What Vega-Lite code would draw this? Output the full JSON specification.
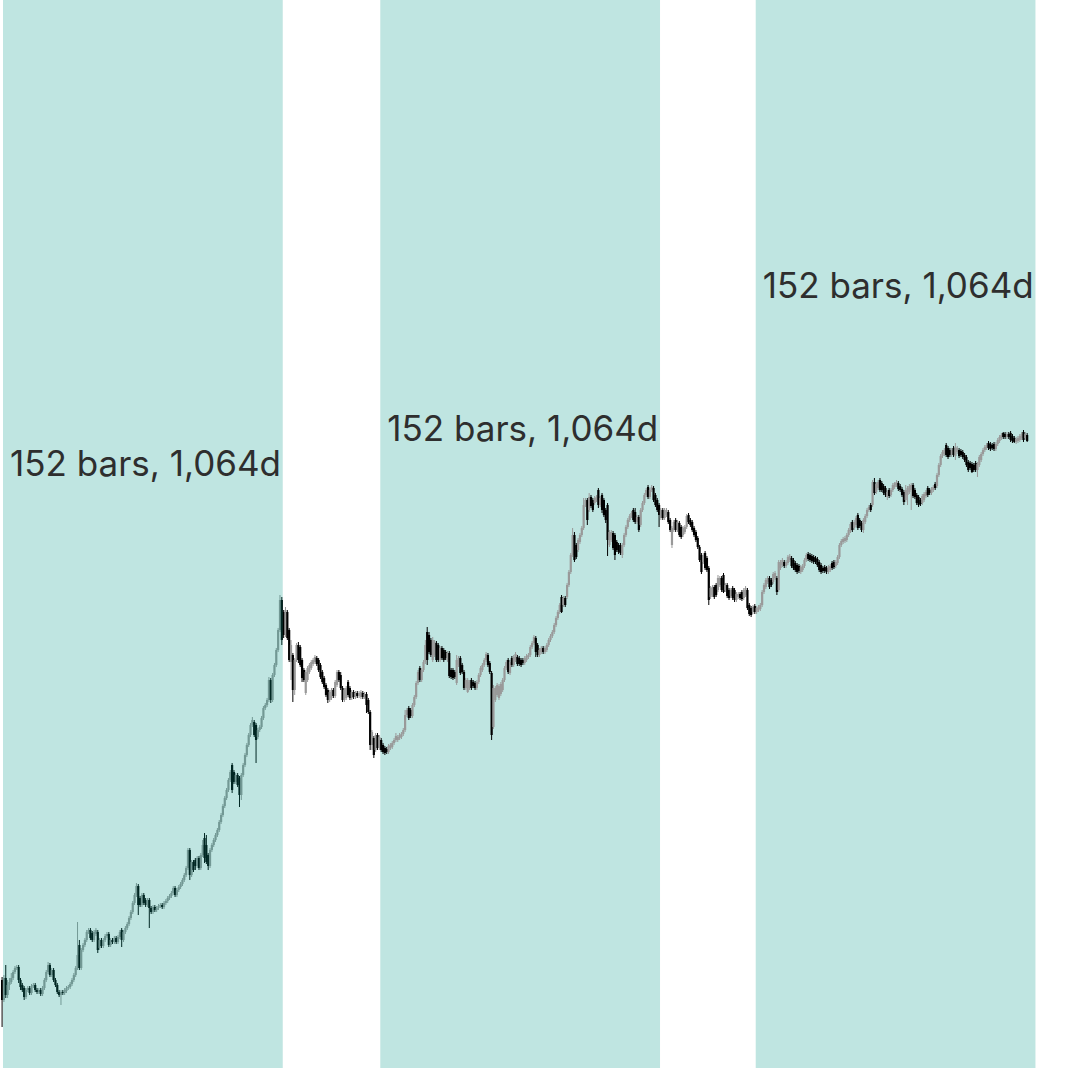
{
  "$schema": "https://vega.github.io/schema/vega-lite/v6.json",
  "width": 1068,
  "height": 1068,
  "autosize": {"type": "fit", "contains": "padding"},
  "padding": 0,
  "background": "white",
  "config": {"view": {"stroke": null}},
  "datasets": {
    "spans": [
      {"n": 1, "s": 0.5, "e": 152.5},
      {"n": 2, "s": 205.5, "e": 357.5},
      {"n": 3, "s": 409.5, "e": 561.5}
    ],
    "labels": [
      {"s": 0.5, "p": 592, "t": "152 bars, 1,064d"},
      {"s": 205.5, "p": 627, "t": "152 bars, 1,064d"},
      {"s": 409.5, "p": 770, "t": "152 bars, 1,064d"}
    ],
    "candles": [
      {"i":0,"o":88,"h":91,"l":41,"c":68},{"i":1,"o":68,"h":93,"l":66,"c":90},{"i":2,"o":90,"h":103,"l":70,"c":73},{"i":3,"o":73,"h":88,"l":70,"c":83},{"i":4,"o":83,"h":90,"l":78,"c":86},
      {"i":5,"o":86,"h":95,"l":84,"c":90},{"i":6,"o":90,"h":98,"l":88,"c":96},{"i":7,"o":96,"h":102,"l":94,"c":100},{"i":8,"o":100,"h":103,"l":98,"c":101},{"i":9,"o":101,"h":103,"l":85,"c":88},
      {"i":10,"o":88,"h":90,"l":78,"c":81},{"i":11,"o":83,"h":85,"l":76,"c":78},{"i":12,"o":80,"h":82,"l":68,"c":71},{"i":13,"o":71,"h":80,"l":69,"c":78},{"i":14,"o":78,"h":82,"l":76,"c":80},
      {"i":15,"o":80,"h":82,"l":73,"c":75},{"i":16,"o":75,"h":84,"l":73,"c":82},{"i":17,"o":82,"h":85,"l":80,"c":83},{"i":18,"o":83,"h":85,"l":76,"c":78},{"i":19,"o":78,"h":80,"l":74,"c":76},
      {"i":20,"o":76,"h":80,"l":74,"c":78},{"i":21,"o":78,"h":80,"l":72,"c":74},{"i":22,"o":74,"h":82,"l":72,"c":80},{"i":23,"o":80,"h":90,"l":78,"c":88},{"i":24,"o":88,"h":98,"l":86,"c":96},
      {"i":25,"o":96,"h":106,"l":94,"c":103},{"i":26,"o":103,"h":105,"l":91,"c":93},{"i":27,"o":93,"h":100,"l":91,"c":98},{"i":28,"o":98,"h":100,"l":86,"c":88},{"i":29,"o":88,"h":90,"l":81,"c":83},
      {"i":30,"o":83,"h":85,"l":74,"c":76},{"i":31,"o":76,"h":78,"l":71,"c":73},{"i":32,"o":73,"h":78,"l":63,"c":76},{"i":33,"o":76,"h":78,"l":73,"c":75},{"i":34,"o":75,"h":80,"l":73,"c":78},
      {"i":35,"o":77,"h":82,"l":75,"c":80},{"i":36,"o":80,"h":83,"l":78,"c":81},{"i":37,"o":81,"h":86,"l":79,"c":84},{"i":38,"o":84,"h":90,"l":82,"c":88},{"i":39,"o":88,"h":95,"l":86,"c":93},
      {"i":40,"o":93,"h":102,"l":91,"c":100},{"i":41,"o":100,"h":146,"l":98,"c":113},{"i":42,"o":123,"h":128,"l":98,"c":100},{"i":43,"o":100,"h":120,"l":98,"c":118},{"i":44,"o":118,"h":125,"l":116,"c":123},
      {"i":45,"o":123,"h":130,"l":121,"c":128},{"i":46,"o":128,"h":138,"l":126,"c":136},{"i":47,"o":136,"h":140,"l":134,"c":138},{"i":48,"o":138,"h":140,"l":128,"c":130},{"i":49,"o":135,"h":137,"l":126,"c":128},
      {"i":50,"o":128,"h":138,"l":126,"c":136},{"i":51,"o":134,"h":140,"l":132,"c":138},{"i":52,"o":136,"h":138,"l":115,"c":118},{"i":53,"o":120,"h":130,"l":118,"c":128},{"i":54,"o":128,"h":130,"l":120,"c":122},
      {"i":55,"o":122,"h":130,"l":120,"c":128},{"i":56,"o":128,"h":134,"l":126,"c":132},{"i":57,"o":132,"h":136,"l":130,"c":134},{"i":58,"o":134,"h":136,"l":121,"c":123},{"i":59,"o":123,"h":130,"l":121,"c":128},
      {"i":60,"o":128,"h":130,"l":124,"c":126},{"i":61,"o":126,"h":132,"l":124,"c":130},{"i":62,"o":130,"h":132,"l":124,"c":126},{"i":63,"o":126,"h":133,"l":124,"c":131},{"i":64,"o":131,"h":138,"l":129,"c":136},
      {"i":65,"o":138,"h":140,"l":121,"c":128},{"i":66,"o":128,"h":138,"l":126,"c":136},{"i":67,"o":136,"h":142,"l":134,"c":140},{"i":68,"o":140,"h":146,"l":138,"c":144},{"i":69,"o":144,"h":152,"l":142,"c":150},
      {"i":70,"o":150,"h":158,"l":148,"c":156},{"i":71,"o":156,"h":167,"l":154,"c":165},{"i":72,"o":165,"h":175,"l":163,"c":173},{"i":73,"o":173,"h":185,"l":171,"c":182},{"i":74,"o":182,"h":184,"l":153,"c":163},
      {"i":75,"o":170,"h":172,"l":161,"c":163},{"i":76,"o":163,"h":175,"l":161,"c":173},{"i":77,"o":173,"h":175,"l":163,"c":165},{"i":78,"o":168,"h":170,"l":161,"c":163},{"i":79,"o":163,"h":170,"l":161,"c":168},
      {"i":80,"o":168,"h":170,"l":140,"c":160},{"i":81,"o":160,"h":162,"l":154,"c":156},{"i":82,"o":156,"h":163,"l":154,"c":161},{"i":83,"o":161,"h":163,"l":156,"c":158},{"i":84,"o":158,"h":162,"l":156,"c":160},
      {"i":85,"o":160,"h":164,"l":158,"c":162},{"i":86,"o":162,"h":165,"l":160,"c":163},{"i":87,"o":163,"h":165,"l":159,"c":161},{"i":88,"o":161,"h":167,"l":159,"c":165},{"i":89,"o":165,"h":169,"l":163,"c":167},
      {"i":90,"o":167,"h":172,"l":165,"c":170},{"i":91,"o":170,"h":174,"l":168,"c":172},{"i":92,"o":172,"h":177,"l":170,"c":175},{"i":93,"o":175,"h":182,"l":173,"c":180},{"i":94,"o":180,"h":182,"l":171,"c":173},
      {"i":95,"o":173,"h":180,"l":171,"c":178},{"i":96,"o":178,"h":183,"l":176,"c":181},{"i":97,"o":181,"h":186,"l":179,"c":184},{"i":98,"o":184,"h":190,"l":182,"c":188},{"i":99,"o":188,"h":195,"l":186,"c":193},
      {"i":100,"o":193,"h":202,"l":191,"c":200},{"i":101,"o":200,"h":220,"l":198,"c":218},{"i":102,"o":218,"h":220,"l":188,"c":193},{"i":103,"o":193,"h":208,"l":191,"c":206},{"i":104,"o":206,"h":208,"l":196,"c":198},
      {"i":105,"o":208,"h":210,"l":198,"c":202},{"i":106,"o":202,"h":212,"l":200,"c":210},{"i":107,"o":210,"h":212,"l":198,"c":200},{"i":108,"o":200,"h":215,"l":198,"c":213},{"i":109,"o":213,"h":228,"l":211,"c":223},
      {"i":110,"o":230,"h":235,"l":205,"c":210},{"i":111,"o":223,"h":233,"l":204,"c":206},{"i":112,"o":213,"h":215,"l":198,"c":202},{"i":113,"o":202,"h":220,"l":200,"c":218},{"i":114,"o":218,"h":225,"l":216,"c":223},
      {"i":115,"o":223,"h":230,"l":221,"c":228},{"i":116,"o":228,"h":235,"l":226,"c":233},{"i":117,"o":233,"h":240,"l":231,"c":238},{"i":118,"o":238,"h":248,"l":236,"c":246},{"i":119,"o":246,"h":255,"l":244,"c":253},
      {"i":120,"o":253,"h":264,"l":251,"c":262},{"i":121,"o":262,"h":272,"l":260,"c":270},{"i":122,"o":270,"h":280,"l":268,"c":278},{"i":123,"o":278,"h":290,"l":276,"c":288},{"i":124,"o":288,"h":298,"l":286,"c":296},
      {"i":125,"o":303,"h":305,"l":275,"c":278},{"i":126,"o":296,"h":298,"l":284,"c":286},{"i":127,"o":286,"h":295,"l":284,"c":293},{"i":128,"o":293,"h":295,"l":281,"c":283},{"i":129,"o":290,"h":292,"l":261,"c":273},
      {"i":130,"o":273,"h":295,"l":268,"c":293},{"i":131,"o":293,"h":305,"l":291,"c":303},{"i":132,"o":303,"h":315,"l":301,"c":313},{"i":133,"o":313,"h":325,"l":311,"c":323},{"i":134,"o":323,"h":335,"l":321,"c":333},
      {"i":135,"o":333,"h":345,"l":331,"c":343},{"i":136,"o":343,"h":351,"l":341,"c":348},{"i":137,"o":346,"h":348,"l":331,"c":333},{"i":138,"o":343,"h":345,"l":305,"c":328},{"i":139,"o":331,"h":340,"l":329,"c":338},
      {"i":140,"o":338,"h":343,"l":336,"c":341},{"i":141,"o":341,"h":352,"l":339,"c":350},{"i":142,"o":350,"h":362,"l":348,"c":360},{"i":143,"o":360,"h":365,"l":358,"c":363},{"i":144,"o":363,"h":370,"l":361,"c":368},
      {"i":145,"o":368,"h":391,"l":366,"c":388},{"i":146,"o":388,"h":390,"l":365,"c":368},{"i":147,"o":368,"h":395,"l":366,"c":393},{"i":148,"o":393,"h":405,"l":391,"c":403},{"i":149,"o":403,"h":420,"l":401,"c":418},
      {"i":150,"o":418,"h":440,"l":416,"c":438},{"i":151,"o":438,"h":473,"l":436,"c":468},{"i":152,"o":468,"h":471,"l":423,"c":428},{"i":153,"o":456,"h":458,"l":430,"c":433},{"i":154,"o":433,"h":461,"l":431,"c":458},
      {"i":155,"o":456,"h":458,"l":428,"c":430},{"i":156,"o":438,"h":440,"l":406,"c":408},{"i":157,"o":406,"h":428,"l":388,"c":423},{"i":158,"o":413,"h":415,"l":366,"c":378},{"i":159,"o":378,"h":410,"l":373,"c":408},
      {"i":160,"o":408,"h":425,"l":406,"c":423},{"i":161,"o":423,"h":426,"l":405,"c":408},{"i":162,"o":421,"h":423,"l":401,"c":403},{"i":163,"o":408,"h":410,"l":386,"c":390},{"i":164,"o":398,"h":400,"l":386,"c":388},
      {"i":165,"o":375,"h":398,"l":373,"c":396},{"i":166,"o":388,"h":402,"l":386,"c":400},{"i":167,"o":396,"h":405,"l":394,"c":403},{"i":168,"o":400,"h":408,"l":398,"c":406},{"i":169,"o":404,"h":410,"l":402,"c":408},
      {"i":170,"o":406,"h":413,"l":404,"c":411},{"i":171,"o":410,"h":412,"l":402,"c":404},{"i":172,"o":408,"h":410,"l":396,"c":398},{"i":173,"o":403,"h":405,"l":389,"c":391},{"i":174,"o":396,"h":398,"l":384,"c":386},
      {"i":175,"o":390,"h":392,"l":379,"c":381},{"i":176,"o":383,"h":385,"l":371,"c":373},{"i":177,"o":378,"h":380,"l":365,"c":368},{"i":178,"o":368,"h":378,"l":366,"c":376},{"i":179,"o":370,"h":380,"l":368,"c":378},
      {"i":180,"o":378,"h":380,"l":370,"c":372},{"i":181,"o":372,"h":388,"l":370,"c":386},{"i":182,"o":383,"h":398,"l":381,"c":396},{"i":183,"o":396,"h":398,"l":386,"c":388},{"i":184,"o":393,"h":396,"l":378,"c":380},
      {"i":185,"o":380,"h":382,"l":366,"c":368},{"i":186,"o":368,"h":380,"l":366,"c":378},{"i":187,"o":370,"h":382,"l":368,"c":380},{"i":188,"o":386,"h":388,"l":371,"c":373},{"i":189,"o":380,"h":382,"l":368,"c":370},
      {"i":190,"o":370,"h":378,"l":368,"c":376},{"i":191,"o":376,"h":378,"l":369,"c":371},{"i":192,"o":371,"h":377,"l":369,"c":375},{"i":193,"o":375,"h":377,"l":370,"c":372},{"i":194,"o":372,"h":377,"l":370,"c":375},
      {"i":195,"o":371,"h":378,"l":369,"c":376},{"i":196,"o":375,"h":377,"l":369,"c":371},{"i":197,"o":371,"h":376,"l":369,"c":374},{"i":198,"o":374,"h":376,"l":355,"c":363},{"i":199,"o":368,"h":370,"l":354,"c":356},
      {"i":200,"o":356,"h":358,"l":318,"c":323},{"i":201,"o":323,"h":338,"l":318,"c":336},{"i":202,"o":330,"h":332,"l":310,"c":313},{"i":203,"o":318,"h":335,"l":316,"c":333},{"i":204,"o":333,"h":335,"l":318,"c":320},
      {"i":205,"o":320,"h":333,"l":318,"c":331},{"i":206,"o":328,"h":330,"l":316,"c":318},{"i":207,"o":323,"h":325,"l":314,"c":316},{"i":208,"o":320,"h":322,"l":313,"c":315},{"i":209,"o":319,"h":321,"l":314,"c":316},
      {"i":210,"o":316,"h":324,"l":314,"c":322},{"i":211,"o":320,"h":325,"l":318,"c":323},{"i":212,"o":321,"h":327,"l":319,"c":325},{"i":213,"o":325,"h":330,"l":323,"c":328},{"i":214,"o":328,"h":335,"l":326,"c":332},
      {"i":215,"o":328,"h":333,"l":326,"c":331},{"i":216,"o":330,"h":335,"l":328,"c":333},{"i":217,"o":331,"h":336,"l":329,"c":334},{"i":218,"o":334,"h":340,"l":332,"c":338},{"i":219,"o":338,"h":358,"l":336,"c":353},
      {"i":220,"o":353,"h":360,"l":351,"c":358},{"i":221,"o":360,"h":362,"l":348,"c":350},{"i":222,"o":358,"h":360,"l":350,"c":352},{"i":223,"o":352,"h":365,"l":350,"c":363},{"i":224,"o":363,"h":373,"l":361,"c":371},
      {"i":225,"o":371,"h":387,"l":369,"c":385},{"i":226,"o":385,"h":398,"l":383,"c":396},{"i":227,"o":400,"h":402,"l":386,"c":388},{"i":228,"o":388,"h":400,"l":386,"c":398},{"i":229,"o":398,"h":408,"l":396,"c":406},
      {"i":230,"o":406,"h":428,"l":404,"c":423},{"i":231,"o":436,"h":441,"l":403,"c":408},{"i":232,"o":433,"h":436,"l":414,"c":416},{"i":233,"o":428,"h":430,"l":411,"c":413},{"i":234,"o":408,"h":431,"l":406,"c":428},
      {"i":235,"o":413,"h":428,"l":411,"c":426},{"i":236,"o":425,"h":427,"l":406,"c":408},{"i":237,"o":423,"h":425,"l":406,"c":408},{"i":238,"o":408,"h":422,"l":406,"c":420},{"i":239,"o":420,"h":422,"l":408,"c":410},
      {"i":240,"o":418,"h":420,"l":406,"c":408},{"i":241,"o":416,"h":418,"l":408,"c":410},{"i":242,"o":408,"h":417,"l":406,"c":415},{"i":243,"o":415,"h":417,"l":390,"c":392},{"i":244,"o":398,"h":400,"l":389,"c":391},
      {"i":245,"o":398,"h":400,"l":388,"c":390},{"i":246,"o":396,"h":398,"l":389,"c":391},{"i":247,"o":385,"h":413,"l":383,"c":408},{"i":248,"o":403,"h":412,"l":401,"c":410},{"i":249,"o":410,"h":412,"l":393,"c":395},
      {"i":250,"o":403,"h":405,"l":394,"c":396},{"i":251,"o":396,"h":398,"l":378,"c":380},{"i":252,"o":380,"h":390,"l":378,"c":388},{"i":253,"o":376,"h":390,"l":375,"c":388},{"i":254,"o":380,"h":388,"l":378,"c":386},
      {"i":255,"o":388,"h":390,"l":378,"c":380},{"i":256,"o":386,"h":388,"l":380,"c":382},{"i":257,"o":385,"h":387,"l":378,"c":380},{"i":258,"o":380,"h":388,"l":378,"c":386},{"i":259,"o":386,"h":395,"l":384,"c":393},
      {"i":260,"o":393,"h":402,"l":391,"c":400},{"i":261,"o":398,"h":405,"l":396,"c":403},{"i":262,"o":403,"h":410,"l":401,"c":408},{"i":263,"o":408,"h":416,"l":406,"c":414},{"i":264,"o":413,"h":415,"l":401,"c":403},
      {"i":265,"o":405,"h":407,"l":394,"c":396},{"i":266,"o":395,"h":397,"l":328,"c":333},{"i":267,"o":341,"h":383,"l":339,"c":380},{"i":268,"o":368,"h":382,"l":366,"c":380},{"i":269,"o":373,"h":385,"l":371,"c":383},
      {"i":270,"o":370,"h":384,"l":368,"c":382},{"i":271,"o":374,"h":386,"l":372,"c":384},{"i":272,"o":378,"h":390,"l":376,"c":388},{"i":273,"o":388,"h":402,"l":386,"c":400},{"i":274,"o":400,"h":408,"l":398,"c":406},
      {"i":275,"o":408,"h":410,"l":394,"c":396},{"i":276,"o":395,"h":408,"l":393,"c":406},{"i":277,"o":410,"h":412,"l":401,"c":403},{"i":278,"o":403,"h":413,"l":401,"c":411},{"i":279,"o":408,"h":416,"l":406,"c":414},
      {"i":280,"o":411,"h":413,"l":402,"c":404},{"i":281,"o":410,"h":412,"l":402,"c":404},{"i":282,"o":408,"h":410,"l":401,"c":403},{"i":283,"o":408,"h":410,"l":403,"c":405},{"i":284,"o":405,"h":412,"l":403,"c":410},
      {"i":285,"o":408,"h":414,"l":406,"c":412},{"i":286,"o":411,"h":415,"l":409,"c":413},{"i":287,"o":413,"h":423,"l":411,"c":421},{"i":288,"o":421,"h":427,"l":419,"c":425},{"i":289,"o":425,"h":433,"l":423,"c":431},
      {"i":290,"o":430,"h":432,"l":411,"c":416},{"i":291,"o":423,"h":425,"l":411,"c":413},{"i":292,"o":413,"h":420,"l":411,"c":418},{"i":293,"o":416,"h":422,"l":414,"c":420},{"i":294,"o":420,"h":422,"l":414,"c":416},
      {"i":295,"o":416,"h":422,"l":414,"c":420},{"i":296,"o":418,"h":425,"l":416,"c":423},{"i":297,"o":423,"h":430,"l":421,"c":428},{"i":298,"o":428,"h":434,"l":426,"c":432},{"i":299,"o":432,"h":438,"l":430,"c":436},
      {"i":300,"o":436,"h":445,"l":434,"c":443},{"i":301,"o":443,"h":452,"l":441,"c":450},{"i":302,"o":450,"h":458,"l":448,"c":456},{"i":303,"o":456,"h":465,"l":454,"c":463},{"i":304,"o":471,"h":473,"l":455,"c":456},
      {"i":305,"o":463,"h":472,"l":461,"c":470},{"i":306,"o":470,"h":472,"l":461,"c":463},{"i":307,"o":471,"h":485,"l":469,"c":483},{"i":308,"o":483,"h":498,"l":481,"c":496},{"i":309,"o":496,"h":515,"l":494,"c":513},
      {"i":310,"o":513,"h":540,"l":511,"c":533},{"i":311,"o":533,"h":536,"l":506,"c":508},{"i":312,"o":523,"h":525,"l":509,"c":511},{"i":313,"o":518,"h":530,"l":516,"c":528},{"i":314,"o":526,"h":535,"l":524,"c":533},
      {"i":315,"o":533,"h":542,"l":531,"c":540},{"i":316,"o":540,"h":570,"l":538,"c":563},{"i":317,"o":563,"h":570,"l":561,"c":568},{"i":318,"o":568,"h":570,"l":543,"c":548},{"i":319,"o":558,"h":575,"l":556,"c":571},
      {"i":320,"o":571,"h":573,"l":560,"c":562},{"i":321,"o":568,"h":570,"l":556,"c":558},{"i":322,"o":565,"h":572,"l":563,"c":570},{"i":323,"o":568,"h":573,"l":566,"c":571},{"i":324,"o":578,"h":580,"l":560,"c":563},
      {"i":325,"o":563,"h":572,"l":561,"c":570},{"i":326,"o":573,"h":575,"l":555,"c":558},{"i":327,"o":568,"h":570,"l":551,"c":553},{"i":328,"o":558,"h":560,"l":545,"c":548},{"i":329,"o":563,"h":565,"l":512,"c":528},
      {"i":330,"o":523,"h":538,"l":521,"c":536},{"i":331,"o":528,"h":538,"l":526,"c":536},{"i":332,"o":535,"h":537,"l":518,"c":520},{"i":333,"o":533,"h":535,"l":508,"c":513},{"i":334,"o":526,"h":528,"l":516,"c":518},
      {"i":335,"o":523,"h":525,"l":514,"c":516},{"i":336,"o":523,"h":525,"l":513,"c":515},{"i":337,"o":513,"h":525,"l":510,"c":523},{"i":338,"o":523,"h":535,"l":521,"c":533},{"i":339,"o":533,"h":543,"l":531,"c":541},
      {"i":340,"o":541,"h":550,"l":539,"c":548},{"i":341,"o":548,"h":554,"l":546,"c":552},{"i":342,"o":552,"h":557,"l":550,"c":555},{"i":343,"o":558,"h":560,"l":546,"c":548},{"i":344,"o":556,"h":560,"l":544,"c":546},
      {"i":345,"o":546,"h":553,"l":544,"c":551},{"i":346,"o":551,"h":553,"l":536,"c":538},{"i":347,"o":543,"h":560,"l":541,"c":558},{"i":348,"o":558,"h":567,"l":556,"c":565},{"i":349,"o":565,"h":575,"l":563,"c":573},
      {"i":350,"o":573,"h":580,"l":571,"c":578},{"i":351,"o":581,"h":583,"l":569,"c":571},{"i":352,"o":571,"h":580,"l":569,"c":578},{"i":353,"o":578,"h":583,"l":576,"c":581},{"i":354,"o":580,"h":582,"l":566,"c":568},
      {"i":355,"o":573,"h":575,"l":561,"c":563},{"i":356,"o":568,"h":570,"l":556,"c":558},{"i":357,"o":563,"h":565,"l":541,"c":553},{"i":358,"o":550,"h":560,"l":548,"c":558},{"i":359,"o":558,"h":560,"l":548,"c":550},
      {"i":360,"o":550,"h":560,"l":548,"c":558},{"i":361,"o":553,"h":560,"l":551,"c":558},{"i":362,"o":556,"h":558,"l":544,"c":546},{"i":363,"o":548,"h":550,"l":536,"c":538},{"i":364,"o":523,"h":542,"l":520,"c":540},
      {"i":365,"o":538,"h":548,"l":536,"c":546},{"i":366,"o":548,"h":550,"l":536,"c":538},{"i":367,"o":538,"h":548,"l":536,"c":546},{"i":368,"o":545,"h":547,"l":531,"c":533},{"i":369,"o":541,"h":543,"l":529,"c":531},
      {"i":370,"o":533,"h":542,"l":531,"c":540},{"i":371,"o":536,"h":543,"l":534,"c":541},{"i":372,"o":541,"h":554,"l":539,"c":552},{"i":373,"o":553,"h":555,"l":544,"c":546},{"i":374,"o":548,"h":550,"l":541,"c":543},
      {"i":375,"o":546,"h":548,"l":536,"c":538},{"i":376,"o":540,"h":542,"l":531,"c":533},{"i":377,"o":536,"h":538,"l":526,"c":528},{"i":378,"o":530,"h":532,"l":519,"c":521},{"i":379,"o":521,"h":523,"l":506,"c":508},
      {"i":380,"o":513,"h":515,"l":494,"c":496},{"i":381,"o":506,"h":515,"l":504,"c":513},{"i":382,"o":515,"h":517,"l":498,"c":500},{"i":383,"o":510,"h":512,"l":496,"c":498},{"i":384,"o":500,"h":502,"l":463,"c":468},
      {"i":385,"o":471,"h":482,"l":469,"c":480},{"i":386,"o":473,"h":483,"l":471,"c":481},{"i":387,"o":481,"h":483,"l":469,"c":471},{"i":388,"o":483,"h":485,"l":471,"c":473},{"i":389,"o":478,"h":493,"l":476,"c":490},
      {"i":390,"o":483,"h":492,"l":481,"c":490},{"i":391,"o":490,"h":492,"l":476,"c":478},{"i":392,"o":493,"h":495,"l":475,"c":476},{"i":393,"o":478,"h":485,"l":476,"c":483},{"i":394,"o":483,"h":485,"l":470,"c":472},
      {"i":395,"o":478,"h":480,"l":468,"c":470},{"i":396,"o":472,"h":480,"l":470,"c":478},{"i":397,"o":480,"h":482,"l":468,"c":470},{"i":398,"o":478,"h":480,"l":466,"c":468},{"i":399,"o":468,"h":476,"l":466,"c":474},
      {"i":400,"o":471,"h":476,"l":469,"c":474},{"i":401,"o":474,"h":476,"l":468,"c":470},{"i":402,"o":476,"h":478,"l":467,"c":469},{"i":403,"o":470,"h":480,"l":468,"c":478},{"i":404,"o":473,"h":482,"l":471,"c":480},
      {"i":405,"o":478,"h":480,"l":458,"c":460},{"i":406,"o":463,"h":465,"l":452,"c":454},{"i":407,"o":460,"h":462,"l":451,"c":453},{"i":408,"o":456,"h":463,"l":454,"c":461},{"i":409,"o":462,"h":464,"l":454,"c":456},
      {"i":410,"o":456,"h":462,"l":454,"c":460},{"i":411,"o":458,"h":463,"l":456,"c":461},{"i":412,"o":459,"h":465,"l":457,"c":463},{"i":413,"o":463,"h":478,"l":461,"c":476},{"i":414,"o":476,"h":485,"l":474,"c":483},
      {"i":415,"o":481,"h":490,"l":479,"c":488},{"i":416,"o":486,"h":492,"l":484,"c":490},{"i":417,"o":490,"h":492,"l":479,"c":481},{"i":418,"o":488,"h":490,"l":481,"c":483},{"i":419,"o":486,"h":496,"l":484,"c":494},
      {"i":420,"o":490,"h":497,"l":488,"c":495},{"i":421,"o":490,"h":492,"l":473,"c":476},{"i":422,"o":478,"h":508,"l":476,"c":506},{"i":423,"o":500,"h":508,"l":498,"c":506},{"i":424,"o":503,"h":510,"l":501,"c":508},
      {"i":425,"o":506,"h":508,"l":500,"c":502},{"i":426,"o":502,"h":508,"l":500,"c":506},{"i":427,"o":505,"h":513,"l":503,"c":511},{"i":428,"o":508,"h":514,"l":506,"c":512},{"i":429,"o":510,"h":512,"l":500,"c":502},
      {"i":430,"o":508,"h":510,"l":498,"c":500},{"i":431,"o":505,"h":507,"l":496,"c":498},{"i":432,"o":503,"h":505,"l":494,"c":496},{"i":433,"o":502,"h":504,"l":495,"c":497},{"i":434,"o":496,"h":503,"l":494,"c":501},
      {"i":435,"o":498,"h":504,"l":496,"c":502},{"i":436,"o":502,"h":510,"l":500,"c":508},{"i":437,"o":508,"h":515,"l":506,"c":513},{"i":438,"o":514,"h":516,"l":507,"c":509},{"i":439,"o":513,"h":515,"l":506,"c":508},
      {"i":440,"o":512,"h":514,"l":505,"c":507},{"i":441,"o":511,"h":513,"l":504,"c":506},{"i":442,"o":510,"h":512,"l":504,"c":506},{"i":443,"o":509,"h":511,"l":501,"c":503},{"i":444,"o":506,"h":508,"l":496,"c":498},
      {"i":445,"o":503,"h":505,"l":494,"c":496},{"i":446,"o":500,"h":502,"l":495,"c":497},{"i":447,"o":501,"h":503,"l":495,"c":497},{"i":448,"o":500,"h":502,"l":494,"c":496},{"i":449,"o":496,"h":503,"l":494,"c":501},
      {"i":450,"o":498,"h":504,"l":496,"c":502},{"i":451,"o":505,"h":507,"l":498,"c":500},{"i":452,"o":506,"h":508,"l":499,"c":501},{"i":453,"o":502,"h":508,"l":500,"c":506},{"i":454,"o":505,"h":513,"l":503,"c":511},
      {"i":455,"o":511,"h":525,"l":509,"c":523},{"i":456,"o":523,"h":529,"l":521,"c":527},{"i":457,"o":526,"h":531,"l":524,"c":529},{"i":458,"o":527,"h":532,"l":525,"c":530},{"i":459,"o":528,"h":535,"l":526,"c":533},
      {"i":460,"o":533,"h":540,"l":531,"c":538},{"i":461,"o":537,"h":546,"l":535,"c":544},{"i":462,"o":546,"h":548,"l":536,"c":538},{"i":463,"o":540,"h":548,"l":538,"c":546},{"i":464,"o":543,"h":552,"l":541,"c":550},
      {"i":465,"o":553,"h":555,"l":538,"c":540},{"i":466,"o":548,"h":550,"l":540,"c":542},{"i":467,"o":545,"h":547,"l":536,"c":538},{"i":468,"o":538,"h":550,"l":535,"c":548},{"i":469,"o":546,"h":554,"l":544,"c":552},
      {"i":470,"o":552,"h":560,"l":550,"c":558},{"i":471,"o":558,"h":563,"l":556,"c":561},{"i":472,"o":563,"h":565,"l":556,"c":558},{"i":473,"o":563,"h":588,"l":561,"c":586},{"i":474,"o":586,"h":590,"l":573,"c":575},
      {"i":475,"o":576,"h":586,"l":574,"c":584},{"i":476,"o":580,"h":588,"l":578,"c":586},{"i":477,"o":588,"h":590,"l":576,"c":578},{"i":478,"o":585,"h":587,"l":576,"c":578},{"i":479,"o":582,"h":584,"l":573,"c":575},
      {"i":480,"o":580,"h":582,"l":571,"c":573},{"i":481,"o":571,"h":578,"l":568,"c":576},{"i":482,"o":578,"h":580,"l":570,"c":572},{"i":483,"o":573,"h":580,"l":571,"c":578},{"i":484,"o":578,"h":585,"l":576,"c":583},
      {"i":485,"o":581,"h":586,"l":579,"c":585},{"i":486,"o":583,"h":588,"l":581,"c":586},{"i":487,"o":585,"h":587,"l":577,"c":579},{"i":488,"o":582,"h":584,"l":576,"c":578},{"i":489,"o":579,"h":581,"l":571,"c":573},
      {"i":490,"o":576,"h":578,"l":563,"c":566},{"i":491,"o":568,"h":583,"l":566,"c":578},{"i":492,"o":573,"h":582,"l":563,"c":580},{"i":493,"o":576,"h":584,"l":574,"c":582},{"i":494,"o":578,"h":585,"l":558,"c":583},
      {"i":495,"o":583,"h":585,"l":570,"c":572},{"i":496,"o":578,"h":580,"l":569,"c":571},{"i":497,"o":573,"h":575,"l":563,"c":565},{"i":498,"o":571,"h":573,"l":561,"c":563},{"i":499,"o":568,"h":570,"l":562,"c":564},
      {"i":500,"o":565,"h":574,"l":563,"c":572},{"i":501,"o":568,"h":576,"l":566,"c":574},{"i":502,"o":572,"h":578,"l":570,"c":576},{"i":503,"o":580,"h":582,"l":571,"c":573},{"i":504,"o":578,"h":580,"l":573,"c":575},
      {"i":505,"o":575,"h":581,"l":573,"c":579},{"i":506,"o":578,"h":583,"l":576,"c":581},{"i":507,"o":584,"h":586,"l":578,"c":580},{"i":508,"o":582,"h":595,"l":580,"c":593},{"i":509,"o":593,"h":605,"l":591,"c":603},
      {"i":510,"o":603,"h":614,"l":601,"c":612},{"i":511,"o":612,"h":618,"l":610,"c":616},{"i":512,"o":614,"h":620,"l":612,"c":618},{"i":513,"o":623,"h":625,"l":611,"c":613},{"i":514,"o":620,"h":622,"l":609,"c":611},
      {"i":515,"o":618,"h":620,"l":611,"c":613},{"i":516,"o":613,"h":620,"l":611,"c":618},{"i":517,"o":620,"h":622,"l":611,"c":613},{"i":518,"o":612,"h":625,"l":608,"c":621},{"i":519,"o":616,"h":622,"l":614,"c":620},
      {"i":520,"o":618,"h":620,"l":610,"c":612},{"i":521,"o":617,"h":619,"l":611,"c":613},{"i":522,"o":616,"h":618,"l":609,"c":611},{"i":523,"o":613,"h":615,"l":606,"c":608},{"i":524,"o":611,"h":613,"l":601,"c":603},
      {"i":525,"o":606,"h":608,"l":596,"c":598},{"i":526,"o":605,"h":607,"l":598,"c":600},{"i":527,"o":604,"h":606,"l":595,"c":596},{"i":528,"o":603,"h":605,"l":596,"c":598},{"i":529,"o":605,"h":607,"l":596,"c":598},
      {"i":530,"o":598,"h":606,"l":591,"c":604},{"i":531,"o":603,"h":613,"l":601,"c":611},{"i":532,"o":608,"h":616,"l":606,"c":614},{"i":533,"o":614,"h":620,"l":612,"c":618},{"i":534,"o":618,"h":623,"l":616,"c":621},
      {"i":535,"o":620,"h":625,"l":618,"c":623},{"i":536,"o":625,"h":627,"l":618,"c":620},{"i":537,"o":624,"h":626,"l":617,"c":619},{"i":538,"o":623,"h":625,"l":618,"c":620},{"i":539,"o":624,"h":626,"l":617,"c":619},
      {"i":540,"o":619,"h":626,"l":617,"c":624},{"i":541,"o":624,"h":630,"l":622,"c":628},{"i":542,"o":627,"h":633,"l":625,"c":631},{"i":543,"o":630,"h":635,"l":628,"c":633},{"i":544,"o":635,"h":636,"l":629,"c":631},
      {"i":545,"o":634,"h":636,"l":629,"c":631},{"i":546,"o":631,"h":636,"l":629,"c":634},{"i":547,"o":634,"h":636,"l":629,"c":631},{"i":548,"o":635,"h":637,"l":626,"c":628},{"i":549,"o":632,"h":634,"l":625,"c":627},
      {"i":550,"o":630,"h":632,"l":625,"c":626},{"i":551,"o":626,"h":631,"l":624,"c":629},{"i":552,"o":627,"h":632,"l":625,"c":630},{"i":553,"o":628,"h":634,"l":626,"c":632},{"i":554,"o":630,"h":636,"l":628,"c":634},
      {"i":555,"o":636,"h":638,"l":626,"c":628},{"i":556,"o":630,"h":636,"l":628,"c":634},{"i":557,"o":633,"h":635,"l":626,"c":627}
    ]
  },
  "layer": [
    {
      "data": {"name": "spans"},
      "transform": [{"filter": "datum.n > 1"}],
      "mark": {"type": "rect", "color": "#009688", "opacity": 0.25},
      "encoding": {
        "x": {"field": "s", "type": "quantitative", "scale": {"domain": [-0.586, 579.186], "nice": false, "zero": false}, "axis": null},
        "x2": {"field": "e"}
      }
    },
    {
      "data": {"name": "candles"},
      "encoding": {
        "x": {"field": "i", "type": "quantitative", "scale": {"domain": [-0.586, 579.186], "nice": false, "zero": false}, "axis": null},
        "color": {"condition": {"test": "datum.c >= datum.o", "value": "#999999"}, "value": "#000000"}
      },
      "layer": [
        {
          "mark": {"type": "rule", "strokeWidth": 1},
          "encoding": {
            "y": {"field": "l", "type": "quantitative", "scale": {"domain": [0, 1068], "nice": false, "zero": false}, "axis": null},
            "y2": {"field": "h"}
          }
        },
        {
          "mark": {"type": "rule", "strokeWidth": 2.2},
          "encoding": {
            "y": {"field": "o", "type": "quantitative", "scale": {"domain": [0, 1068], "nice": false, "zero": false}, "axis": null},
            "y2": {"field": "c"}
          }
        }
      ]
    },
    {
      "data": {"name": "spans"},
      "transform": [{"filter": "datum.n == 1"}],
      "mark": {"type": "rect", "color": "#009688", "opacity": 0.25},
      "encoding": {
        "x": {"field": "s", "type": "quantitative", "scale": {"domain": [-0.586, 579.186], "nice": false, "zero": false}, "axis": null},
        "x2": {"field": "e"}
      }
    },
    {
      "data": {"name": "labels"},
      "mark": {"type": "text", "align": "left", "baseline": "alphabetic", "dx": 7, "font": "Inter", "fontSize": 35, "color": "#2e2e2e"},
      "encoding": {
        "x": {"field": "s", "type": "quantitative", "scale": {"domain": [-0.586, 579.186], "nice": false, "zero": false}, "axis": null},
        "y": {"field": "p", "type": "quantitative", "scale": {"domain": [0, 1068], "nice": false, "zero": false}, "axis": null},
        "text": {"field": "t"}
      }
    }
  ]
}
